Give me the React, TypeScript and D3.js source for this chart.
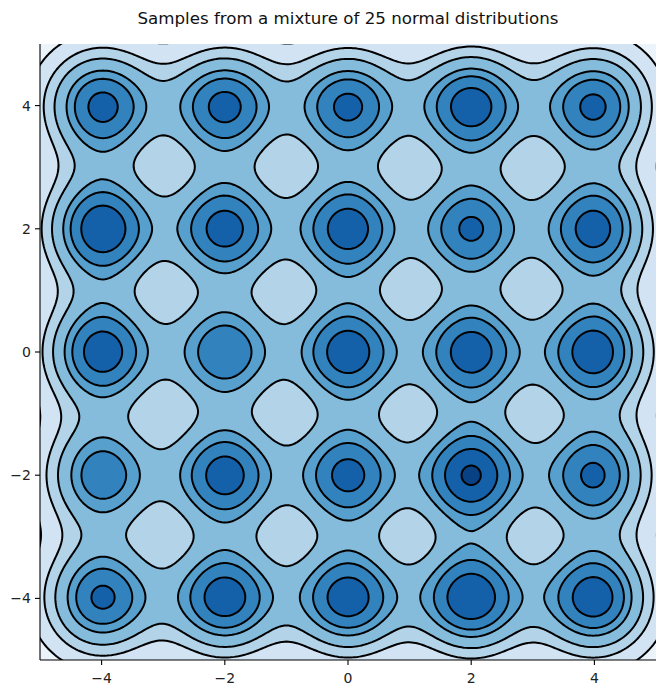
import * as d3 from 'd3';
import { useEffect, useRef } from 'react';

// cluster centres of the 5x5 grid
const centersX = [-4, -2, 0, 2, 4];
const centersY = [4, 2, 0, -2, -4];
// relative weight of each cluster (rows: y = 4 .. -4, columns: x = -4 .. 4)
const weights = [
  [0.98, 0.977, 0.962, 1.017, 0.965],
  [1.05, 0.986, 1.007, 0.939, 0.996],
  [1.017, 0.9, 1.018, 1.007, 1.028],
  [0.88, 0.996, 0.967, 1.08, 0.949],
  [0.959, 1.017, 1.017, 1.054, 1.03],
];
const bandwidth = 0.65;
// contour levels (density, relative units)
const levels = [0.179, 0.348, 0.496, 0.675, 0.792, 0.94, 1.088];
const xTicks = [-4, -2, 0, 2, 4];
const yTicks = [-4, -2, 0, 2, 4];
const blues = ['#f7fbff', '#deebf7', '#c6dbef', '#9ecae1', '#6baed6', '#4292c6', '#2171b5', '#08519c', '#08306b'];

const fmt = (v: number) => (v < 0 ? '\u2212' + Math.abs(v) : String(v));

function density(px: number, py: number) {
  let s = 0;
  const k = 2 * bandwidth * bandwidth;
  for (let r = 0; r < centersY.length; r++) {
    for (let c = 0; c < centersX.length; c++) {
      const dx = px - centersX[c], dy = py - centersY[r];
      s += weights[r][c] * Math.exp(-(dx * dx + dy * dy) / k);
    }
  }
  return s;
}

function makeChart(el: SVGSVGElement) {
  const svg = d3.select(el);
  svg.selectAll('*').remove();

  const x = d3.scaleLinear().domain([-5, 5]).range([40, 656]);
  const y = d3.scaleLinear().domain([-5, 5]).range([660, 44]);

  const n = 320, lo = -5.4, hi = 5.4, step = (hi - lo) / (n - 1);
  const values: number[] = new Array(n * n);
  for (let j = 0; j < n; j++) {
    for (let i = 0; i < n; i++) {
      values[j * n + i] = density(lo + i * step, lo + j * step);
    }
  }

  const cmap = d3.scaleLinear<string>().domain(d3.range(9).map(i => i / 8)).range(blues);
  const contours = d3.contours().size([n, n]).thresholds([0, ...levels])(values);

  const proj = d3.geoTransform({
    point(px: number, py: number) {
      (this as any).stream.point(x(lo + (px - 0.5) * step), y(lo + (py - 0.5) * step));
    },
  });
  const path = d3.geoPath(proj);

  svg.append('defs').append('clipPath').attr('id', 'plotclip')
    .append('rect').attr('x', 40).attr('y', 44).attr('width', 616).attr('height', 616);

  const g = svg.append('g').attr('clip-path', 'url(#plotclip)');
  g.selectAll('path.fill').data(contours).join('path')
    .attr('class', 'fill')
    .attr('d', d => path(d as any))
    .attr('fill', (d, i) => cmap((i + 0.5) / 8))
    .attr('stroke', 'none');

  g.selectAll('path.line').data(contours.slice(1)).join('path')
    .attr('class', 'line')
    .attr('d', d => path(d as any))
    .attr('fill', 'none')
    .attr('stroke', 'black')
    .attr('stroke-width', 2);

  // axes (left + bottom spines only)
  const ax = svg.append('g').attr('font-family', 'DejaVu Sans').attr('font-size', 14);
  ax.append('line').attr('x1', 40).attr('x2', 40).attr('y1', 44).attr('y2', 660)
    .attr('stroke', 'black').attr('stroke-width', 1.1);
  ax.append('line').attr('x1', 40).attr('x2', 656).attr('y1', 660).attr('y2', 660)
    .attr('stroke', 'black').attr('stroke-width', 1.1);

  xTicks.forEach(t => {
    ax.append('line').attr('x1', x(t)).attr('x2', x(t)).attr('y1', 660).attr('y2', 665)
      .attr('stroke', 'black').attr('stroke-width', 1.1);
    ax.append('text').attr('x', x(t)).attr('y', 683).attr('text-anchor', 'middle')
      .attr('fill', '#222').text(fmt(t));
  });
  yTicks.forEach(t => {
    ax.append('line').attr('x1', 35).attr('x2', 40).attr('y1', y(t)).attr('y2', y(t))
      .attr('stroke', 'black').attr('stroke-width', 1.1);
    ax.append('text').attr('x', 31).attr('y', y(t) + 5).attr('text-anchor', 'end')
      .attr('fill', '#222').text(fmt(t));
  });

  svg.append('text').attr('x', 348).attr('y', 24).attr('text-anchor', 'middle')
    .attr('font-family', 'DejaVu Sans').attr('font-size', 16.67).attr('fill', '#111')
    .text('Samples from a mixture of 25 normal distributions');
}

export default function App() {
  const ref = useRef<SVGSVGElement>(null);
  useEffect(() => {
    if (ref.current) makeChart(ref.current);
  }, []);
  return (
    <svg ref={ref} width={666} height={694}
      style={{ position: 'absolute', left: 0, top: 0, background: 'white' }} />
  );
}
